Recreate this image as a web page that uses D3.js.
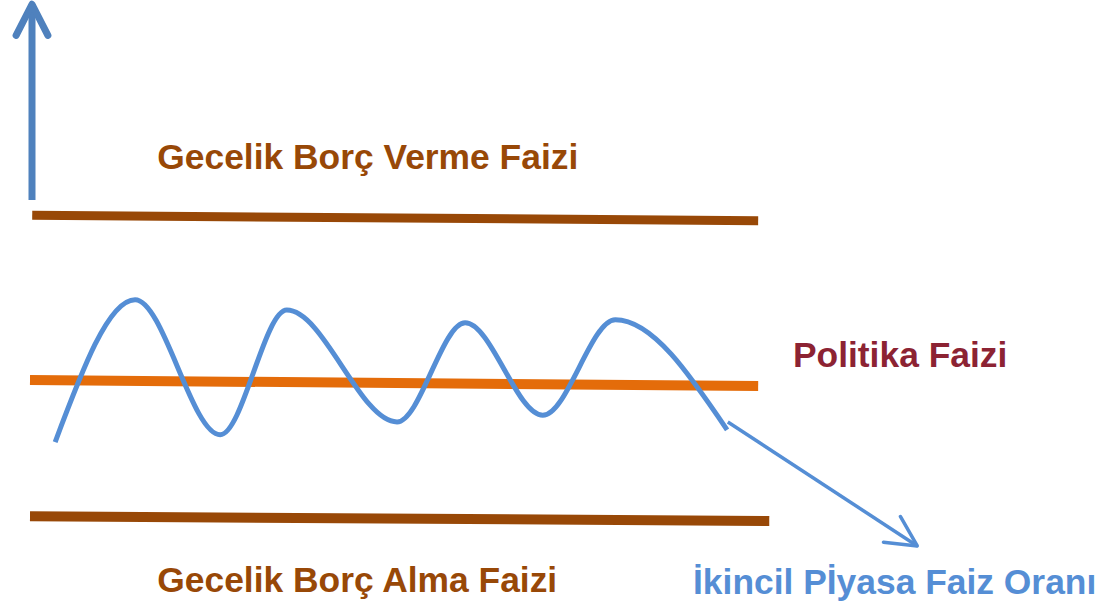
<!DOCTYPE html>
<html>
  <head>
    <meta charset="utf-8" />
    <title>Politika Faizi Koridoru</title>
    <style>
      body {
        margin: 0;
        background: #fff;
      }
      text {
        font-family: "Liberation Sans", Arial, sans-serif;
        font-weight: bold;
        font-size: 35.4px;
      }
    </style>
    <script src="https://d3js.org/d3.v7.min.js"></script>
  </head>
  <body>
    <div id="chart"></div>
    <script type="text/javascript">
      // Width and height
      var w = 1099;
      var h = 608;

      // rate lines: [x, y] at start and end (time 0-100, rate 0-100)
      var vermeLine = [[0.3, 64.6], [98.4, 63.7]];
      var politikaLine = [[0, 37.5], [98.4, 36.5]];
      var almaLine = [[0, 15.1], [99.9, 14.3]];

      // secondary market rate, peaks and troughs
      var waveX = [3.4, 14.2, 25.7, 34.7, 49.6, 58.8, 69.3, 79.1, 94.2];
      var waveY = [27.3, 50.7, 28.5, 49.0, 30.6, 46.9, 31.7, 47.4, 29.3];

      // arrows
      var upArrow = [[0.27, 67.1], [0.27, 99.3]];
      var downArrow = [[94.3, 30.6], [119.9, 10.2]];

      var labels = [
        "Gecelik Borç Verme Faizi",
        "Politika Faizi",
        "Gecelik Borç Alma Faizi",
        "İkincil Pİyasa Faiz Oranı",
      ];

      var x = d3.scaleLinear().domain([0, 100]).range([30, 770]);
      var y = d3.scaleLinear().domain([0, 100]).range([h, 0]);

      var svg = d3
        .select("#chart")
        .append("svg")
        .attr("width", w)
        .attr("height", h);

      var line = d3
        .line()
        .x(function (d) { return x(d[0]); })
        .y(function (d) { return y(d[1]); });

      // horizontal rate lines
      var rates = [
        { pts: vermeLine, color: "#984807", width: 9 },
        { pts: politikaLine, color: "#e46c0a", width: 10 },
        { pts: almaLine, color: "#984807", width: 10 },
      ];
      svg
        .selectAll("path.rate")
        .data(rates)
        .enter()
        .append("path")
        .attr("class", "rate")
        .attr("d", function (d) { return line(d.pts); })
        .attr("stroke", function (d) { return d.color; })
        .attr("stroke-width", function (d) { return d.width; })
        .attr("fill", "none");

      // wave
      var wave = d3.zip(waveX, waveY);
      svg
        .append("path")
        .attr("d", line.curve(d3.curveMonotoneX)(wave))
        .attr("stroke", "#558ed5")
        .attr("stroke-width", 5)
        .attr("fill", "none");
      line.curve(d3.curveLinear);

      // arrow with chevron head
      function arrow(pts, color, width, headLen) {
        var x0 = x(pts[0][0]), y0 = y(pts[0][1]);
        var x1 = x(pts[1][0]), y1 = y(pts[1][1]);
        var a = Math.atan2(y0 - y1, x0 - x1);
        var spread = (27 * Math.PI) / 180;
        var head = [
          [x1 + headLen * Math.cos(a + spread), y1 + headLen * Math.sin(a + spread)],
          [x1, y1],
          [x1 + headLen * Math.cos(a - spread), y1 + headLen * Math.sin(a - spread)],
        ];
        svg
          .append("line")
          .attr("x1", x0)
          .attr("y1", y0)
          .attr("x2", x1)
          .attr("y2", y1)
          .attr("stroke", color)
          .attr("stroke-width", width);
        svg
          .append("path")
          .attr("d", d3.line()(head))
          .attr("stroke", color)
          .attr("stroke-width", width)
          .attr("stroke-linecap", "round")
          .attr("stroke-linejoin", "round")
          .attr("fill", "none");
      }

      arrow(upArrow, "#4f81bd", 7, 35);
      arrow(downArrow, "#558ed5", 3.5, 34);

      // labels
      var labelPos = [
        { x: 17.2, y: 72.2, color: "#984807" },
        { x: 103.1, y: 39.6, color: "#8c2333" },
        { x: 17.2, y: 2.6, color: "#984807" },
        { x: 89.6, y: 2.3, color: "#558ed5" },
      ];
      svg
        .selectAll("text")
        .data(labels)
        .enter()
        .append("text")
        .attr("x", function (d, i) { return x(labelPos[i].x); })
        .attr("y", function (d, i) { return y(labelPos[i].y); })
        .attr("fill", function (d, i) { return labelPos[i].color; })
        .text(function (d) { return d; });
    </script>
  </body>
</html>
